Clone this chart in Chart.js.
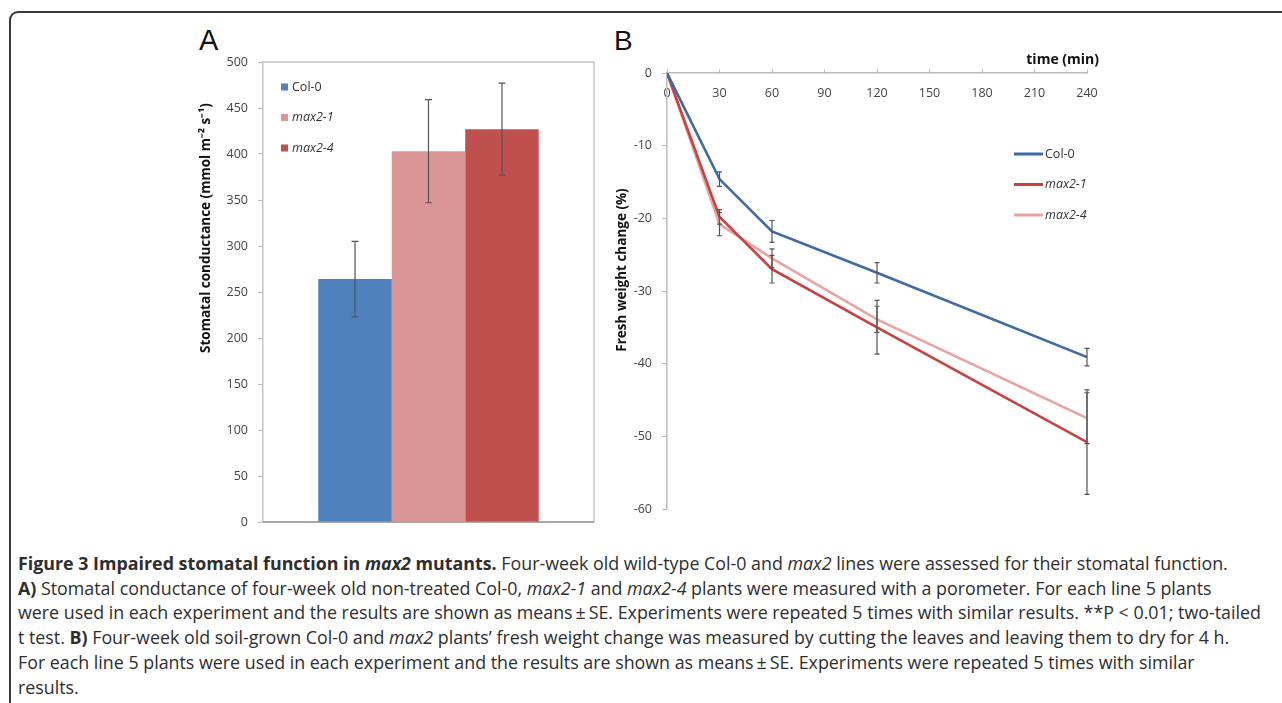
<!DOCTYPE html>
<html>
<head>
<meta charset="utf-8">
<script src="https://cdn.jsdelivr.net/npm/chart.js@4.4.1/dist/chart.umd.min.js"></script>
<style>
  body { margin: 0; background: #fff; width: 1282px; height: 703px; overflow: hidden; position: relative; font-family: 'Open Sans', sans-serif; }
  .frame { position: absolute; left: 9px; top: 11px; width: 1300px; height: 720px; border-top: 2px solid #3a3a3a; border-left: 2px solid #3a3a3a; border-top-left-radius: 9px; }
  .panel { position: absolute; }
  .letter { position: absolute; font-family: 'Liberation Sans', Arial, sans-serif; color: #111; line-height: 1; }
  #caption { position: absolute; left: 18px; top: 551px; color: #2e2e2e; font-size: 16px; line-height: 24.7px; }
  #caption div { white-space: nowrap; }
</style>
</head>
<body>
<div class="frame"></div>
<div class="letter" style="left:199px; top:26px; font-size:29px;">A</div>
<div class="letter" style="left:614px; top:27px; font-size:28px;">B</div>
<div class="panel" style="left:150px; top:40px; width:460px; height:500px;"><canvas id="chartA"></canvas></div>
<div class="panel" style="left:590px; top:40px; width:540px; height:490px;"><canvas id="chartB"></canvas></div>
<div id="caption">
  <div id="capLine1"><b>Figure 3 Impaired stomatal function in <i>max2</i> mutants.</b> Four-week old wild-type Col-0 and <i>max2</i> lines were assessed for their stomatal function.</div>
  <div><b>A)</b> Stomatal conductance of four-week old non-treated Col-0, <i>max2-1</i> and <i>max2-4</i> plants were measured with a porometer. For each line 5 plants</div>
  <div>were used in each experiment and the results are shown as means&#8201;±&#8201;SE. Experiments were repeated 5 times with similar results. **P &lt; 0.01; two-tailed</div>
  <div>t test. <b>B)</b> Four-week old soil-grown Col-0 and <i>max2</i> plants’ fresh weight change was measured by cutting the leaves and leaving them to dry for 4 h.</div>
  <div>For each line 5 plants were used in each experiment and the results are shown as means&#8201;±&#8201;SE. Experiments were repeated 5 times with similar</div>
  <div>results.</div>
</div>
<script>
// fit caption font so the first line spans the frame like the original
(function() {
    const cap = document.getElementById('caption');
    const w = document.getElementById('capLine1').scrollWidth;
    cap.style.fontSize = (16 * 1243 / w).toFixed(2) + 'px';
})();

// Panel A data
const lineNames = ['Col-0', 'max2-1', 'max2-4'];
const conductance = [264, 403, 427];
const conductanceSE = [41, 56, 50];
const conductanceTicks = [0, 500, 50];

// Panel B data
const times = [0, 30, 60, 120, 240];
const col0 = [0, -14.6, -21.8, -27.5, -39.1];
const col0SE = [0, 1.0, 1.5, 1.4, 1.2];
const max21 = [0, -19.8, -27.0, -35.0, -50.8];
const max21SE = [0, 1.0, 1.9, 3.7, 7.2];
const max24 = [0, -20.8, -25.5, -33.9, -47.5];
const max24SE = [0, 1.6, 1.3, 1.8, 3.5];

const barColors = ['#4F81BD', '#D99694', '#C0504D'];
const lineColors = ['#3E6AA6', '#C9403C', '#EAA3A1'];

Chart.defaults.font.family = "'Open Sans', sans-serif";
Chart.defaults.color = '#444';
Chart.defaults.animation = false;

// error bars, read from dataset.errors
const errorBars = {
    id: 'errorBars',
    afterDatasetsDraw(chart, args, opts) {
        const ctx = chart.ctx;
        const yScale = chart.scales.y;
        ctx.save();
        ctx.strokeStyle = opts.color || '#555';
        ctx.lineWidth = 1.2;
        chart.data.datasets.forEach((ds, di) => {
            const meta = chart.getDatasetMeta(di);
            meta.data.forEach((el, i) => {
                const err = ds.errors[i];
                if (!err) return;
                const v = chart.data.datasets[di].data[i];
                const val = typeof v === 'object' ? v.y : v;
                const yTop = yScale.getPixelForValue(val + err);
                const yBot = yScale.getPixelForValue(val - err);
                const x = el.x;
                const c = opts.cap || 3;
                ctx.beginPath();
                ctx.moveTo(x, yTop); ctx.lineTo(x, yBot);
                ctx.moveTo(x - c, yTop); ctx.lineTo(x + c, yTop);
                ctx.moveTo(x - c, yBot); ctx.lineTo(x + c, yBot);
                ctx.stroke();
            });
        });
        ctx.restore();
    }
};

// legend drawn inside the plot, like the original
const insideLegend = {
    id: 'insideLegend',
    afterDraw(chart, args, opts) {
        const ctx = chart.ctx;
        ctx.save();
        ctx.textBaseline = 'middle';
        ctx.fillStyle = '#333';
        chart.data.datasets.forEach((ds, i) => {
            const y = opts.y + i * opts.gap;
            const col = ds.legendColor || ds.borderColor;
            if (opts.kind === 'box') {
                ctx.fillStyle = col;
                ctx.fillRect(opts.x, y - 3.5, 7, 7);
            } else {
                ctx.strokeStyle = col;
                ctx.lineWidth = 3;
                ctx.beginPath();
                ctx.moveTo(opts.x, y);
                ctx.lineTo(opts.x + 29, y);
                ctx.stroke();
            }
            const italic = ds.label.startsWith('max') ? 'italic ' : '';
            ctx.font = italic + opts.fontSize + "px 'Open Sans', sans-serif";
            ctx.fillStyle = '#333';
            ctx.fillText(ds.label, opts.x + opts.textOffset, y);
        });
        ctx.restore();
    }
};

// axis titles and extra text placed where the original has them
const axisText = {
    id: 'axisText',
    afterDraw(chart, args, opts) {
        const ctx = chart.ctx;
        ctx.save();
        ctx.fillStyle = '#111';
        ctx.font = "bold 13.5px 'Open Sans', sans-serif";
        ctx.textAlign = 'center';
        ctx.textBaseline = 'middle';
        ctx.translate(opts.yTitleX, opts.yTitleY);
        ctx.rotate(-Math.PI / 2);
        ctx.fillText(opts.yTitle, 0, 0);
        ctx.restore();
        if (opts.xTitle) {
            ctx.save();
            ctx.fillStyle = '#111';
            ctx.font = "bold 14px 'Open Sans', sans-serif";
            ctx.textAlign = 'right';
            ctx.textBaseline = 'middle';
            ctx.fillText(opts.xTitle, opts.xTitleX, opts.xTitleY);
            ctx.restore();
        }
    }
};

// plot box around panel A
const plotBox = {
    id: 'plotBox',
    beforeDatasetsDraw(chart) {
        const {ctx, chartArea: a} = chart;
        ctx.save();
        ctx.strokeStyle = '#c4c4c4';
        ctx.lineWidth = 1.5;
        ctx.beginPath();
        ctx.moveTo(a.left, a.top); ctx.lineTo(a.right, a.top); ctx.lineTo(a.right, a.bottom);
        ctx.stroke();
        ctx.strokeStyle = '#a8a8a8';
        ctx.lineWidth = 2;
        ctx.beginPath();
        ctx.moveTo(a.left, a.bottom); ctx.lineTo(a.right, a.bottom);
        ctx.stroke();
        ctx.restore();
    }
};

new Chart(document.getElementById('chartA'), {
    type: 'bar',
    data: {
        labels: [''],
        datasets: lineNames.map((name, i) => ({
            label: name,
            data: [conductance[i]],
            errors: [conductanceSE[i]],
            backgroundColor: barColors[i],
            legendColor: barColors[i],
            borderWidth: 0
        }))
    },
    options: {
        responsive: true,
        maintainAspectRatio: false,
        layout: { padding: { left: 43, top: 22, right: 16, bottom: 18 } },
        datasets: { bar: { categoryPercentage: 0.666, barPercentage: 1.0 } },
        plugins: {
            legend: { display: false },
            tooltip: { enabled: false },
            errorBars: { cap: 3.5, color: '#555' },
            insideLegend: { kind: 'box', x: 131, y: 47, gap: 30.5, textOffset: 11, fontSize: 12.5 },
            axisText: { yTitle: 'Stomatal conductance (mmol m\u207B\u00B2 s\u207B\u00B9)', yTitleX: 56, yTitleY: 188 }
        },
        scales: {
            x: { display: false },
            y: {
                min: conductanceTicks[0],
                max: conductanceTicks[1],
                ticks: { stepSize: conductanceTicks[2], padding: 10, font: { size: 12.5 }, color: '#444' },
                grid: { drawOnChartArea: false, tickLength: 5, color: '#bbb' },
                border: { color: '#c4c4c4', width: 1.5 },
                afterFit(s) { s.width = 70; }
            }
        }
    },
    plugins: [plotBox, errorBars, insideLegend, axisText]
});

const seriesB = [
    { label: 'Col-0', values: col0, se: col0SE },
    { label: 'max2-1', values: max21, se: max21SE },
    { label: 'max2-4', values: max24, se: max24SE }
];

new Chart(document.getElementById('chartB'), {
    type: 'line',
    data: {
        datasets: seriesB.map((s, i) => ({
            label: s.label,
            data: times.map((t, j) => ({ x: t, y: s.values[j] })),
            errors: s.se,
            borderColor: lineColors[i],
            borderWidth: 2.6,
            pointRadius: 0,
            tension: 0,
            fill: false
        })).reverse().reverse()
    },
    options: {
        responsive: true,
        maintainAspectRatio: false,
        layout: { padding: { left: 20, top: 33, right: 43, bottom: 21 } },
        plugins: {
            legend: { display: false },
            tooltip: { enabled: false },
            errorBars: { cap: 2.5, color: '#555' },
            insideLegend: { kind: 'line', x: 424, y: 114, gap: 30.5, textOffset: 31, fontSize: 12.5 },
            axisText: { yTitle: 'Fresh weight change (%)', yTitleX: 32, yTitleY: 230,
                        xTitle: 'time (min)', xTitleX: 509, xTitleY: 20 }
        },
        scales: {
            x: {
                type: 'linear',
                position: { y: 0 },
                min: times[0],
                max: times[times.length - 1],
                ticks: { stepSize: 30, padding: 16.5, font: { size: 12.5 }, color: '#444' },
                grid: { drawOnChartArea: false, tickLength: -4, color: '#bbb' },
                border: { color: '#bbb', width: 1.5 }
            },
            y: {
                min: -60,
                max: 0,
                ticks: { stepSize: 10, padding: 10, font: { size: 12.5 }, color: '#444' },
                grid: { drawOnChartArea: false, tickLength: 5, color: '#bbb' },
                border: { color: '#bbb', width: 1.5 },
                afterFit(s) { s.width = 57; }
            }
        }
    },
    plugins: [errorBars, insideLegend, axisText]
});
</script>
</body>
</html>
